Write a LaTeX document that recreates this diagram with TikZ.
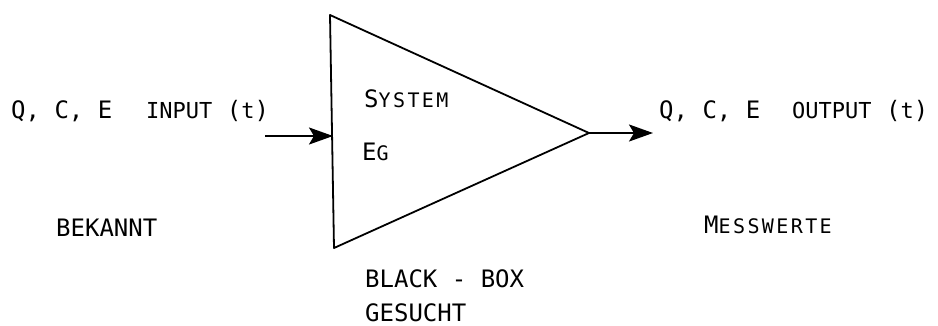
\documentclass[tikz,border=0pt]{standalone}
\usepackage{fontspec}
\setmonofont{DejaVu Sans Mono}
% letter-spaced face so that the small capitals keep the full monospace pitch
\newfontfamily\scmono{DejaVu Sans Mono}[LetterSpace=12.0]
\newcommand{\smallcap}[1]{{\scmono\fontsize{20}{24}\selectfont #1}}
\newcommand{\midcap}[1]{{\fontsize{22}{26}\selectfont #1}}
\usetikzlibrary{arrows.meta}
\begin{document}
\begin{tikzpicture}[x=1pt,y=-1pt,
  lbl/.style={anchor=base west,inner sep=0pt,font=\ttfamily\fontsize{24}{28}\selectfont},
  outline/.style={line width=1.8pt,line join=round},
  flow/.style={line width=2.2pt,-{Stealth[length=24pt,width=17pt,inset=5pt]}}]
\useasboundingbox (0,0) rectangle (938,325);
% the system block
\coordinate (tl) at (330,15);
\coordinate (bl) at (334,248);
\coordinate (tip) at (589,133);
\draw[outline] (tl) -- (tip) -- (bl) -- cycle;
% input and output flows
\coordinate (inStart) at (265,136);
\coordinate (inEnd) at (333,136);
\coordinate (outEnd) at (653,133);
\draw[flow] (inStart) -- (inEnd);
\draw[flow] (tip) -- (outEnd);
% labels
\node[lbl] (qin) at (11,118) {Q, C, E};
\node[lbl] (input) at (146,118) {\midcap{INPUT} (\midcap{t})};
\node[lbl] (qout) at (659,118) {Q, C, E};
\node[lbl] (output) at (792,118) {\midcap{OUTPUT} (\midcap{t})};
\node[lbl] (system) at (364,107) {S\smallcap{YSTEM}};
\node[lbl] (eg) at (362,160) {E\smallcap{G}};
\node[lbl] (bekannt) at (56,236) {BEKANNT};
\node[lbl] (mess) at (704,233) {M\smallcap{ESSWERTE}};
\node[lbl] (blackbox) at (365,287) {BLACK - BOX};
\node[lbl] (gesucht) at (365,321) {GESUCHT};
\end{tikzpicture}
\end{document}
